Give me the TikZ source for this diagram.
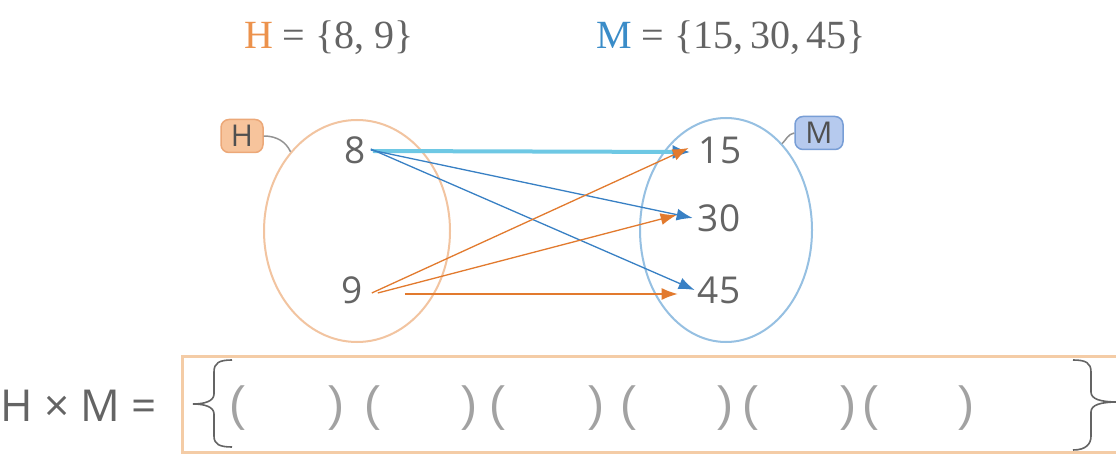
\documentclass[tikz,border=0pt]{standalone}
\usepackage{fontspec}
\setmainfont{Liberation Serif}
\setsansfont{Open Sans}
\newfontfamily\parfont{Liberation Sans}
\usetikzlibrary{arrows.meta,shapes.geometric}
\definecolor{txt}{RGB}{100,100,100}
\definecolor{hor}{RGB}{236,146,76}
\definecolor{mbl}{RGB}{58,140,200}
\definecolor{hell}{RGB}{242,196,160}
\definecolor{mell}{RGB}{150,192,226}
\definecolor{hfill}{RGB}{247,196,156}
\definecolor{hdraw}{RGB}{236,168,120}
\definecolor{mfill}{RGB}{182,202,238}
\definecolor{mdraw}{RGB}{120,158,214}
\definecolor{oarr}{RGB}{226,122,46}
\definecolor{barr}{RGB}{56,128,196}
\definecolor{carr}{RGB}{110,200,228}
\definecolor{boxc}{RGB}{244,204,166}
\tikzset{
  num/.style={font=\sffamily\fontsize{37}{42}\selectfont, text=txt, inner sep=0pt},
  setell/.style={ellipse, draw, line width=2pt, inner sep=0pt},
  tag/.style={rounded corners=8pt, draw, line width=1.5pt, minimum height=33pt, inner sep=0pt, font=\sffamily\fontsize{30}{34}\selectfont, text=txt!80!black},
  arr/.style={line width=1.3pt, -{Latex[length=16pt,width=12pt]}},
  title/.style={font=\fontsize{40}{44}\selectfont, text=txt, inner sep=0pt},
  par/.style={font=\parfont\fontsize{48}{54}\selectfont, text=txt!60, inner sep=0pt},
  brace/.style={line width=1.6pt, draw=txt},
}
\begin{document}
\begin{tikzpicture}[x=1pt,y=-1pt]
\useasboundingbox[fill=white] (0,0) rectangle (1116,454);
% titles
\node[title] (th) at (329,38) {\textcolor{hor}{H} = \{8, 9\}};
\node[title] (tm) at (731,38) {\textcolor{mbl}{M} = \{15,\,30,\,45\}};
% sets
\node[setell, draw=hell, minimum width=186pt, minimum height=222pt] (hset) at (357,231) {};
\node[setell, draw=mell, minimum width=172pt, minimum height=224pt] (mset) at (726,230) {};
% tags
\node[tag, fill=hfill, draw=hdraw, minimum width=42pt] (hl) at (242,136) {H};
\node[tag, fill=mfill, draw=mdraw, minimum width=48pt] (ml) at (819,133) {M};
\draw[line width=1.5pt, draw=txt!70] (hl.east) .. controls (277,136) and (286,142) .. (hset.130);
\draw[line width=1.5pt, draw=txt!70] (ml.west) .. controls (788,134) and (786,140) .. (mset.57);
% elements
\node[num] (n8) at (355,150) {8};
\node[num] (n9) at (352,290) {9};
\node[num] (n15) at (720,150) {15};
\node[num] (n30) at (719,218) {30};
\node[num] (n45) at (719,290) {45};
% arrows from 8
\draw[arr, line width=4pt, draw=carr, -{Latex[length=18pt,width=14pt,color=barr]}] ([xshift=7pt,yshift=-1pt]n8.east) -- ([xshift=-8pt,yshift=-2pt]n15.west);
\draw[arr, draw=barr, barr] ([xshift=5pt]n8.east) -- ([xshift=-5pt]n30.west);
\draw[arr, draw=barr, barr] ([xshift=5pt,yshift=1pt]n8.east) -- ([xshift=-3pt]n45.west);
% arrows from 9
\draw[arr, draw=oarr, oarr] ([xshift=9pt,yshift=-3pt]n9.east) -- ([xshift=-10pt,yshift=2pt]n15.west);
\draw[arr, draw=oarr, oarr] ([xshift=15pt,yshift=-3pt]n9.east) -- ([xshift=-21pt,yshift=3pt]n30.west);
\draw[arr, draw=oarr, oarr] ([xshift=42pt,yshift=-4pt]n9.east) -- ([xshift=-20pt,yshift=-4pt]n45.west);
% product
\node[font=\sffamily\fontsize{44}{48}\selectfont, text=txt, inner sep=0pt, anchor=west] (hxm) at (0,406) {H × M =};
\draw[draw=boxc, line width=3pt] (182,356) rectangle (1130,452);
\draw[brace] (232,360) .. controls (219,360) and (214,363) .. (214,372) -- (214,394) .. controls (214,401) and (205,404) .. (193,404) .. controls (205,404) and (214,407) .. (214,414) -- (214,436) .. controls (214,444) and (219,447) .. (232,447);
\draw[brace] (1073,360) .. controls (1086,360) and (1091,363) .. (1091,372) -- (1091,392) .. controls (1091,399) and (1100,402) .. (1118,402) .. controls (1100,402) and (1091,405) .. (1091,412) -- (1091,436) .. controls (1091,444) and (1086,450) .. (1073,450);
\foreach \a/\b [count=\i] in {237/336,372/469,497/596,628/725,750/848,870/966}{
  \node[par] (pl\i) at (\a,408) {(};
  \node[par] (pr\i) at (\b,408) {)};
}
\end{tikzpicture}
\end{document}
